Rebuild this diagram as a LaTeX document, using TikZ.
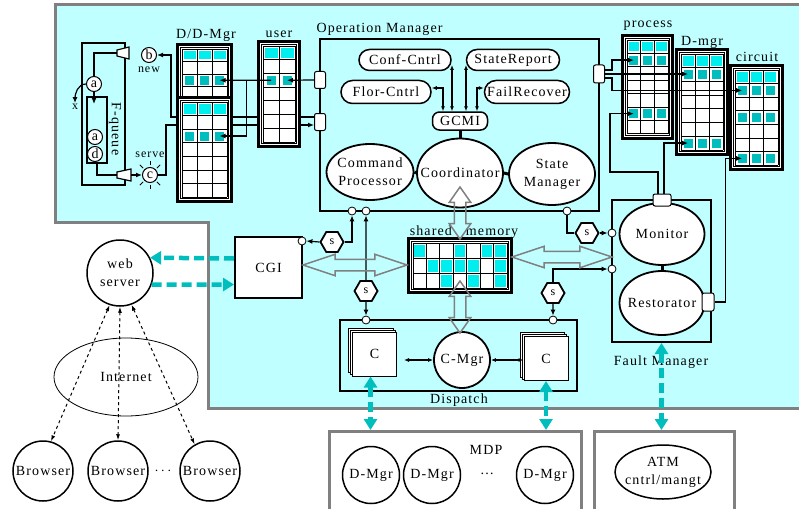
\documentclass[tikz,border=0pt]{standalone}
\usepackage{fontspec}
\setmainfont{Liberation Serif}[LetterSpace=8]
\usetikzlibrary{positioning, arrows.meta, calc, backgrounds, shapes.geometric, shapes.misc, shapes.arrows}

\definecolor{bgcyan}{RGB}{192,255,255}
\definecolor{hdcyan}{RGB}{0,238,238}
\definecolor{celteal}{RGB}{0,190,190}
\definecolor{frgray}{RGB}{128,128,128}

% table with double frame: name, x, y (top left of grid), cols, rows, cell w, cell h, header
\newcommand{\celltable}[8]{%
  \begin{scope}[shift={(#2,#3)}]
    \filldraw[fill=white, line width=2.5pt] (-4.5,-4.5) rectangle ({#4*#6+4.5},{#5*#7+4.5});
    \draw[line width=1pt] (-1.5,-1.5) rectangle ({#4*#6+1.5},{#5*#7+1.5});
    \ifnum#8=1
      \foreach \cc in {1,...,#4}
        \fill[hdcyan] ({(\cc-1)*#6+1.5},2) rectangle ({\cc*#6-1.5},{#7-2});
    \fi
    \foreach \cc in {0,...,#4}
      \draw[line width=0.8pt] ({\cc*#6},0) -- ({\cc*#6},{#5*#7});
    \foreach \rr in {0,...,#5}
      \draw[line width=0.8pt] (0,{\rr*#7}) -- ({#4*#6},{\rr*#7});
    \foreach \rr in {1,...,#5}
      \foreach \cc in {1,...,#4}
        \coordinate (#1-\rr-\cc) at ({(\cc-0.5)*#6},{(\rr-0.5)*#7});
  \end{scope}}

\begin{document}
\begin{tikzpicture}[x=1pt, y=-1pt,
  font=\fontsize{14}{18}\selectfont,
  conn/.style={line width=1.2pt},
  arr/.style={line width=1.2pt, -{Latex[length=6pt,width=5pt]}},
  dbl/.style={line width=1.2pt, {Latex[length=5pt,width=4pt]}-{Latex[length=5pt,width=4pt]}},
  joint/.style={line width=3pt},
  boxframe/.style={draw, line width=2pt, inner sep=0pt},
  oval/.style={ellipse, draw, line width=1.8pt, fill=white, align=center,
               inner xsep=-14pt, inner ysep=-6pt},
  pill/.style={rounded rectangle, draw, line width=1.5pt, fill=white, minimum height=21pt, inner sep=2pt},
  plug/.style={draw, fill=white, rounded corners=2pt, line width=1pt, inner sep=0pt},
  socket/.style={circle, draw, fill=white, line width=0.8pt, minimum size=8pt, inner sep=0pt},
  hexs/.style={regular polygon, regular polygon sides=6, draw, fill=white, line width=1.8pt,
               minimum size=23pt, inner sep=0pt, font=\fontsize{12}{12}\selectfont},
  qcirc/.style={circle, draw, fill=white, line width=1pt, minimum size=15pt, inner sep=0pt},
  tcell/.style={fill=celteal, minimum size=9pt, inner sep=0pt},
  mcell/.style={fill=hdcyan, minimum width=10.5pt, minimum height=12pt, inner sep=0pt},
  cbox/.style={draw, fill=white, line width=1pt, minimum size=44pt, inner sep=0pt},
  graybox/.style={draw=frgray, line width=3pt, fill=white, inner sep=0pt},
  bigarr/.style={double arrow, draw=frgray, line width=1.5pt, inner sep=5pt,
                 double arrow head extend=5pt},
  cyarr/.style={draw=celteal, line width=4.5pt, dash pattern=on 10pt off 5pt,
                -{Triangle[length=11pt,width=13pt]}},
  cydbl/.style={cyarr, {Triangle[length=11pt,width=13pt]}-{Triangle[length=11pt,width=13pt]}},
  webarr/.style={dashed, line width=1pt, {Latex[length=6pt,width=4pt]}-{Latex[length=6pt,width=4pt]}},
  smalltxt/.style={font=\fontsize{12}{12}\selectfont, inner sep=1pt},
]
\useasboundingbox (0,0) rectangle (799,508);

% Cyan region
\begin{scope}[on background layer]
  \filldraw[fill=bgcyan, draw=frgray, line width=3pt]
    (55,5) -- (812,5) -- (812,408) -- (208,408) -- (208,222) -- (55,222) -- cycle;
\end{scope}

% F-queue
\node[boxframe, line width=1.5pt, minimum width=43pt, minimum height=142pt] (fq) at (103.5,114) {};
\node[boxframe, line width=1.5pt, minimum width=20pt, minimum height=66pt] (fqin) at (97,130) {};
\node[qcirc] (qa) at (94,84) {a};
\node[qcirc] (qa2) at (95,137) {a};
\node[qcirc] (qd) at (95,154) {d};
\node[rotate=-90] (fqlbl) at (115,129) {F-queue};
\draw[conn, fill=white] (117,50) -- (129,47) -- (129,59) -- (117,56) -- cycle;
\draw[conn, fill=white] (117,172) -- (131,169) -- (131,181) -- (117,178) -- cycle;
\coordinate (qp1w) at (117,53);
\coordinate (qp2w) at (117,175);
\coordinate (qp2e) at (131,175);
\node[qcirc] (qb) at (149,55) {b};
\node[smalltxt, below=3pt of qb] (newlbl) {new};
\node[qcirc] (qc) at (150,175) {c};
\node[smalltxt, above=8pt of qc] (servelbl) {serve};
\foreach \a in {45,90,135,225,270,315}
  \draw[line width=0.8pt] ($(qc.center)!1.2!(qc.\a)$) -- ($(qc.center)!1.8!(qc.\a)$);
\node[smalltxt] (xlbl) at (75,107) {x};
\draw[conn] (qa.north) |- (qp1w);
\draw[arr] (qa.south) -- ++(0,12);
\draw[conn] (fqin.south) |- (qp2w);
\draw[arr] (qp2e) -- (qc.west);
\draw[arr] (qa.west) to[out=180, in=90] (xlbl.north);

% D/D-Mgr and user tables
\celltable{dd1}{182}{49}{3}{4}{15}{12.5}{1}
\celltable{dd2}{182}{102}{3}{7}{15}{13.6}{1}
\celltable{usr}{263}{46}{2}{7}{16}{13.7}{1}
\foreach \cc in {1,2,3} {
  \node[tcell] at (dd1-3-\cc) {};
  \node[tcell] at (dd2-3-\cc) {};
}
\node[tcell] at (usr-3-1) {};
\node[tcell] at (usr-3-2) {};
\node (ddlbl) at (206,35) {D/D-Mgr};
\node (usrlbl) at (279,34) {user};

% Operation Manager
\node[boxframe, minimum width=279pt, minimum height=172pt] (om) at (459.5,125) {};
\node[anchor=west] (omlbl) at (313,29) {Operation Manager};
\node[pill, minimum width=96pt] (conf) at (405,60) {Conf-Cntrl};
\node[pill, minimum width=97pt] (staterep) at (513,60) {StateReport};
\node[pill, minimum width=94pt, minimum height=23pt] (flor) at (386,92) {Flor-Cntrl};
\node[pill, minimum width=89pt, minimum height=23pt] (fail) at (527,92) {FailRecover};
\node[draw, line width=1.5pt, fill=white, rounded corners=7pt, minimum width=55pt,
      minimum height=18pt, inner sep=0pt] (gcmi) at (460,121) {GCMI};
\node[oval, minimum width=87pt, minimum height=56pt] (cp) at (370,172) {Command\\Processor};
\node[oval, minimum width=86pt, minimum height=69pt] (coord) at (460,173) {Coordinator};
\node[oval, minimum width=86pt, minimum height=62pt] (sm) at (552,174) {State\\Manager};
\draw[dbl, shorten >=5pt] ([xshift=-8pt]gcmi.north) -- ([xshift=-8pt]gcmi.north |- conf.east);
\draw[dbl, shorten >=5pt] ([xshift=6pt]gcmi.north) -- ([xshift=6pt]gcmi.north |- staterep.west);
\draw[dbl] ([xshift=-17pt]gcmi.north) |- ([yshift=4pt]flor.east);
\draw[dbl] ([xshift=17pt]gcmi.north) |- ([yshift=4pt]fail.west);
\draw[joint] (gcmi.south) -- (coord.north);
\draw[joint] (cp.east) -- (coord.west);
\draw[joint] (coord.east) -- (sm.west);
\node[plug, minimum width=11pt, minimum height=17pt] (omL1) at (320,80) {};
\node[plug, minimum width=11pt, minimum height=17pt] (omL2) at (320,122) {};
\node[plug, minimum width=11pt, minimum height=18pt] (omR) at (599,74) {};
\node[socket] (omc1) at (352,211) {};
\node[socket] (omc2) at (366,211) {};
\node[socket] (omc3) at (567,211) {};

% process, D-mgr, circuit tables
\celltable{prc}{627}{40}{3}{7}{13.7}{13.4}{1}
\celltable{dmg}{681}{54}{3}{7}{14}{13.7}{1}
\celltable{cir}{735}{70}{3}{7}{14.3}{13.6}{1}
\foreach \cc in {1,2,3} {
  \node[tcell] at (prc-2-\cc) {};
  \node[tcell] at (prc-6-\cc) {};
  \node[tcell] at (dmg-2-\cc) {};
  \node[tcell] at (dmg-7-\cc) {};
  \node[tcell] at (cir-2-\cc) {};
  \node[tcell] at (cir-4-\cc) {};
  \node[tcell] at (cir-7-\cc) {};
}
\node (prclbl) at (648,26) {process};
\node (dmglbl) at (702,42) {D-mgr};
\node (cirlbl) at (757,57) {circuit};

% shared memory
\celltable{smem}{413}{243}{7}{3}{13.43}{15}{0}
\foreach \rr/\cc in {1/1,1/4,1/6,1/7,2/2,2/3,2/4,2/5,2/7,3/3,3/5,3/7}
  \node[mcell] at (smem-\rr-\cc) {};
\node (smlbl) at (464,232) {shared\hspace{14pt}memory};

% CGI
\node[boxframe, fill=white, minimum width=67pt, minimum height=61pt] (cgi) at (268.5,267.5) {CGI};
\node[socket] (cgic) at (302,241) {};

% Fault Manager
\node[boxframe, minimum width=99pt, minimum height=142pt] (fm) at (661.5,271) {};
\node[oval, minimum width=85pt, minimum height=62pt] (mon) at (662,234) {Monitor};
\node[oval, minimum width=85pt, minimum height=64pt] (res) at (662,303) {Restorator};
\draw[joint] (mon.south) -- (res.north);
\node[plug, minimum width=18pt, minimum height=12pt] (monc) at (662,200) {};
\node[plug, minimum width=12pt, minimum height=18pt] (resc) at (708,302) {};
\node (fmlbl) at (661,362) {Fault Manager};
\node[socket] (fmc1) at (612,233) {};
\node[socket] (fmc2) at (612,269) {};

% Dispatch
\node[boxframe, minimum width=237pt, minimum height=71pt] (disp) at (458.5,355.5) {};
\node (displbl) at (459,400) {Dispatch};
\foreach \d in {4,2} {
  \draw[line width=1pt, fill=white] (352-\d,332-\d) rectangle ++(45,44);
  \draw[line width=1pt, fill=white] (524-\d,336-\d) rectangle ++(44,45);
}
\node[cbox] (cl) at (374.5,354) {C};
\node[cbox] (cr) at (546,358.5) {C};
\node[circle, draw, fill=white, line width=1.8pt, minimum size=56pt, inner sep=0pt] (cmgr) at (462,360) {C-Mgr};
\node[socket] (dpc1) at (366,320) {};
\node[socket] (dpc2) at (553,320) {};
\draw[dbl] ([xshift=7pt]cl.east |- cmgr.west) -- (cmgr.west);
\draw[dbl] (cmgr.east) -- (cmgr.east -| cr.west);

% s links
\node[hexs] (s1) at (332,242) {s};
\node[hexs] (s2) at (366,291) {s};
\node[hexs] (s3) at (587,233) {s};
\node[hexs] (s4) at (553,293) {s};
\draw[arr] (s1.west) -- (cgic.east);
\draw[arr] (s1.east) -| (omc1.south);
\draw[arr] (s2.north) -- (omc2.south);
\draw[arr] (s2.south) -- (dpc1.north);
\draw[conn] (omc3.south) |- (s3.west);
\draw[arr] (s3.east) -- (fmc1.west);
\draw[arr] (s4.north) |- (fmc2.west);
\draw[arr] (s4.south) -- (dpc2.north);

% big gray arrows
\node[bigarr, rotate=90, minimum height=52pt, double arrow tip angle=70] (coordarr) at (460,213) {};
\node[bigarr, rotate=90, minimum height=52pt, double arrow tip angle=70] (cmgrarr) at (460,307) {};
\node[bigarr, minimum height=104pt, double arrow tip angle=37] (cgiarr) at (355,265) {};
\node[bigarr, minimum height=100pt, double arrow tip angle=37] (fmarr) at (562,257) {};

% table links
\draw[arr] (omL1.west) -- (usr-3-2);
\draw[arr] (usr-3-1) -- (dd1-3-3);
\draw[arr] ($(usr-3-1)!0.47!(dd1-3-3)$) |- (dd2-3-3);
\draw[arr] ([yshift=4pt]omR.east) -- ++(7,0) |- (prc-2-1);
\draw[arr] (omR.east) -- (omR.east -| dmg-2-1);
\draw[arr] ([yshift=-4pt]omR.east) -- ++(7,0) |- (cir-2-1);
\coordinate (monbend) at (610,172);
\draw[arr] ([xshift=-4pt]monc.north) |- (monbend) |- (prc-6-1);
\draw[arr] ([xshift=2pt]monc.north) |- (dmg-7-1);
\draw[arr] (resc.east) -- ++(11,0) |- (cir-7-1);

\begin{scope}[on background layer]
  \coordinate (newbend) at (171,117);
  \coordinate (servebend) at (166,125);
  \draw[arr] ([yshift=5pt]omL2.west) -- (newbend) |- (qb.east);
  \draw[arr] (qc.east) -| (servebend) -- ([yshift=-3pt]omL2.west);
\end{scope}

% Web side
\node[circle, draw, fill=white, line width=1.5pt, minimum size=66pt, inner sep=0pt, align=center] (ws) at (120,273) {web\\server};
\node[ellipse, draw, line width=0.8pt, minimum width=144pt, minimum height=78pt] (inet) at (126,377) {Internet};
\node[circle, draw, line width=1.5pt, minimum size=60pt, inner sep=0pt] (br1) at (43,471) {Browser};
\node[circle, draw, line width=1.5pt, minimum size=60pt, inner sep=0pt] (br2) at (118,471) {Browser};
\node[circle, draw, line width=1.5pt, minimum size=60pt, inner sep=0pt] (br3) at (210,471) {Browser};
\node (brdots) at (163,471) {$\cdots$};
\draw[webarr] (ws.-108) -- (br1.75);
\draw[webarr] (ws.south) -- (br2.north);
\draw[webarr] (ws.-70) -- (br3.120);
\draw[cyarr] ([yshift=9pt]cgi.west) -- (ws.27);
\draw[cyarr] (ws.-20) -- ([yshift=-17pt]cgi.west);

% MDP and ATM
\node[graybox, minimum width=252pt, minimum height=95pt, anchor=north west] (mdp) at (328,430) {};
\node (mdplbl) at (486,450) {MDP};
\node[circle, draw, line width=1.5pt, minimum size=57pt, inner sep=0pt] (dm1) at (371,475) {D-Mgr};
\node[circle, draw, line width=1.5pt, minimum size=57pt, inner sep=0pt] (dm2) at (432,475) {D-Mgr};
\node[circle, draw, line width=1.5pt, minimum size=57pt, inner sep=0pt] (dm3) at (545,475) {D-Mgr};
\node (mdots) at (487,474) {\ldots};
\node[graybox, minimum width=140pt, minimum height=95pt, anchor=north west] (atmbox) at (593,430) {};
\node[oval, line width=1.5pt, minimum width=96pt, minimum height=54pt] (atm) at (663,472) {ATM\\cntrl/mangt};
\draw[cydbl] ([xshift=-4pt]cl.south) -- ([xshift=-4pt]cl.south |- mdp.north);
\draw[cydbl] (cr.south) -- (cr.south |- mdp.north);
\draw[cydbl] (fm.south) -- (fm.south |- atmbox.north);

\end{tikzpicture}
\end{document}
